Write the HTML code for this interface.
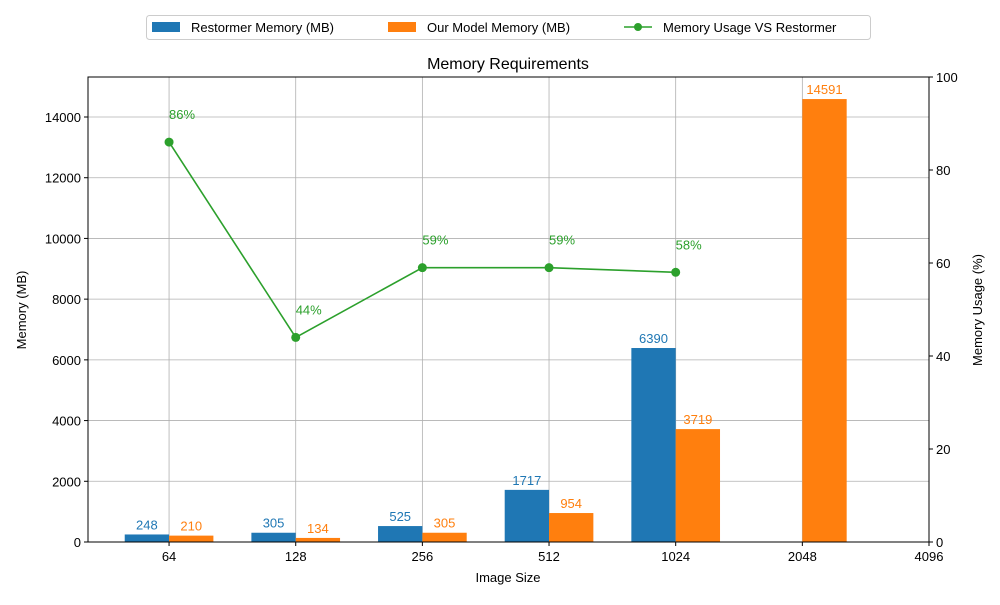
<!DOCTYPE html>
<html><head><meta charset="utf-8"><style>
body{margin:0;background:#fff;}
svg text{font-family:"Liberation Sans","DejaVu Sans",sans-serif;}
</style></head><body>
<svg id="chart" width="1000" height="600" xmlns="http://www.w3.org/2000/svg"></svg>
<script>
const categories=["64","128","256","512","1024","2048","4096"];
const restormer=[248,305,525,1717,6390,null,null];
const ours=[210,134,305,954,3719,14591,null];
const usage=[86,44,59,59,58];
const leftTicks=[0,2000,4000,6000,8000,10000,12000,14000];
const rightTicks=[0,20,40,60,80,100];
const L=88,R=929,T=77,B=542;
const xs=i=>L+(i+0.64)*(R-L)/6.64;
const yL=v=>B-v*(B-117)/14000;
const yR=v=>B-v*(B-T)/100;
const svg=document.getElementById('chart');
const NS="http://www.w3.org/2000/svg";
function mk(tag,attrs,txt){const e=document.createElementNS(NS,tag);for(const k in attrs)e.setAttribute(k,attrs[k]);if(txt!==undefined)e.textContent=txt;svg.appendChild(e);return e;}
// grid
leftTicks.forEach(v=>{const g=mk('line',{x1:L,x2:R,y1:yL(v),y2:yL(v),stroke:'#b0b0b0','stroke-width':0.8});

});
categories.forEach((c,i)=>{const g=mk('line',{x1:xs(i),x2:xs(i),y1:T,y2:B,stroke:'#b0b0b0','stroke-width':0.8});

});
const bw=0.35*(R-L)/6.64;
restormer.forEach((v,i)=>{if(v==null)return;
const r=mk('rect',{x:xs(i)-bw,y:yL(v),width:bw,height:B-yL(v),fill:'#1f77b4'});


const t=mk('text',{x:xs(i)-bw/2,y:yL(v)-5,'text-anchor':'middle','font-size':13,fill:'#1f77b4'},v);

});
ours.forEach((v,i)=>{if(v==null)return;
const r=mk('rect',{x:xs(i),y:yL(v),width:bw,height:B-yL(v),fill:'#ff7f0e'});


const t=mk('text',{x:xs(i)+bw/2,y:yL(v)-5,'text-anchor':'middle','font-size':13,fill:'#ff7f0e'},v);

});
// line
const pts=usage.map((v,i)=>xs(i)+','+yR(v)).join(' ');
const pl=mk('polyline',{points:pts,fill:'none',stroke:'#2ca02c','stroke-width':1.6});


usage.forEach((v,i)=>{const c=mk('circle',{cx:xs(i),cy:yR(v),r:4.5,fill:'#2ca02c'});


const t=mk('text',{x:xs(i),y:yR(v)-23,'font-size':13,fill:'#2ca02c'},v+'%');

});
// frame
const fr=mk('rect',{x:L,y:T,width:R-L,height:B-T,fill:'none',stroke:'#000','stroke-width':1});


leftTicks.forEach(v=>{mk('line',{x1:L-4,x2:L,y1:yL(v),y2:yL(v),stroke:'#000'});
const t=mk('text',{x:L-7,y:yL(v)+5,'text-anchor':'end','font-size':13},v);

});
rightTicks.forEach(v=>{mk('line',{x1:R,x2:R+4,y1:yR(v),y2:yR(v),stroke:'#000'});
const t=mk('text',{x:R+7,y:yR(v)+5,'font-size':13},v);

});
categories.forEach((c,i)=>{mk('line',{x1:xs(i),x2:xs(i),y1:B,y2:B+4,stroke:'#000'});
const t=mk('text',{x:xs(i),y:B+19,'text-anchor':'middle','font-size':13},c);

});
</script>
<svg style="position:absolute;left:0;top:0" width="1000" height="600" xmlns="http://www.w3.org/2000/svg">
<text x="508" y="69" text-anchor="middle" font-size="16">Memory Requirements</text>
<text x="508" y="582" text-anchor="middle" font-size="13">Image Size</text>
<text transform="translate(26,310) rotate(-90)" text-anchor="middle" font-size="13">Memory (MB)</text>
<text transform="translate(982,310) rotate(-90)" text-anchor="middle" font-size="13">Memory Usage (%)</text>
<g>
<rect x="146.5" y="15.5" width="724" height="24" rx="3" fill="#fff" stroke="#ccc"/>
<rect x="152" y="22" width="28" height="10" fill="#1f77b4"/>
<text x="191" y="32" font-size="13">Restormer Memory (MB)</text>
<rect x="388" y="22" width="28" height="10" fill="#ff7f0e"/>
<text x="427" y="32" font-size="13">Our Model Memory (MB)</text>
<line x1="624" x2="652" y1="27" y2="27" stroke="#2ca02c" stroke-width="1.6"/>
<circle cx="638" cy="27" r="4" fill="#2ca02c"/>
<text x="663" y="32" font-size="13">Memory Usage VS Restormer</text>
</g>
</svg>
</body></html>
